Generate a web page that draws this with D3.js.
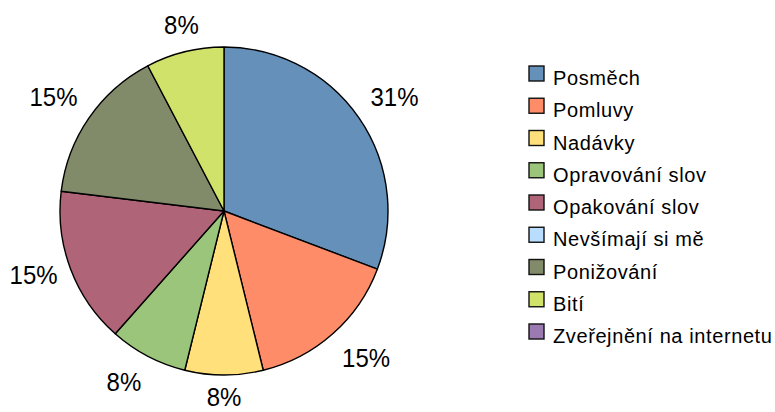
<!DOCTYPE html>
<html>
<head>
<meta charset="utf-8">
<script src="https://cdn.jsdelivr.net/npm/d3@7"></script>
<style>
  html, body { margin: 0; padding: 0; background: #fff; }
  svg { display: block; }
</style>
</head>
<body>
<svg id="chart" width="775" height="412"></svg>
<script>
const categories = ["Posměch", "Pomluvy", "Nadávky", "Opravování slov", "Opakování slov",
                    "Nevšímají si mě", "Ponižování", "Bití", "Zveřejnění na internetu"];
const values = [4, 2, 1, 1, 2, 0, 2, 1, 0];
const colors = ["#6590B9", "#FF8C69", "#FFE07A", "#9BC57A", "#B06478",
                "#B9DDFF", "#818A69", "#D1E26A", "#9A7AB0"];

const svg = d3.select("#chart");
const W = 775, H = 412;
const cx = 224, cy = 211, r = 164;
const font = "'Liberation Sans', Arial, sans-serif";

const total = d3.sum(values);
const data = categories.map((c, i) => ({ cat: c, value: values[i], color: colors[i] }));

const pie = d3.pie().sort(null).value(d => d.value);
const arcs = pie(data);
const arcGen = d3.arc().innerRadius(0).outerRadius(r);

const g = svg.append("g").attr("transform", `translate(${cx},${cy})`);

g.selectAll("path.slice")
  .data(arcs.filter(a => a.data.value > 0))
  .join("path")
  .attr("class", "slice")
  .attr("d", arcGen)
  .attr("fill", d => d.data.color)
  .attr("stroke", "#000")
  .attr("stroke-width", 1.4)
  .attr("stroke-linejoin", "round");

// percent labels placed outside the pie
const fmt = v => Math.round(v / total * 100) + "%";
const gap = 14, fs = 24;
const ramp = (v, t) => Math.sign(v) * Math.max(0, Math.min(1, (Math.abs(v) - t) * 5));
const labels = g.selectAll("text.pct")
  .data(arcs.filter(a => a.data.value > 0))
  .join("text")
  .attr("class", "pct")
  .attr("font-family", font)
  .attr("font-size", fs)
  .attr("fill", "#000")
  .attr("text-anchor", "middle")
  .text(d => fmt(d.data.value));

labels.each(function(d) {
  const a = (d.startAngle + d.endAngle) / 2;
  const s = Math.sin(a), c = Math.cos(a);
  const px = (r + gap) * s, py = -(r + gap) * c;
  const bb = this.getBBox();
  const w = bb.width, h = fs * 1.1;
  const kx = ramp(s, 0.25);
  const ky = ramp(c, 0.35);
  const centerX = px + kx * w / 2;
  const centerY = py - ky * h / 2;
  const baseline = Math.min(centerY + fs * 0.39, H - cy - 6);
  d3.select(this)
    .attr("transform", `translate(${centerX},${baseline}) scale(1,1.1)`);
});

// legend
const legend = svg.append("g").attr("transform", "translate(529,66)");
const rowH = 32.25;
const rows = legend.selectAll("g.row")
  .data(data)
  .join("g")
  .attr("class", "row")
  .attr("transform", (d, i) => `translate(0,${i * rowH})`);

rows.append("rect")
  .attr("x", 0).attr("y", 0)
  .attr("width", 15).attr("height", 15)
  .attr("fill", d => d.color)
  .attr("stroke", "#111")
  .attr("stroke-width", 1.4);

rows.append("text")
  .attr("x", 24)
  .attr("y", 19)
  .attr("font-family", font)
  .attr("font-size", 20)
  .attr("letter-spacing", 0.6)
  .attr("fill", "#000")
  .text(d => d.cat);
</script>
</body>
</html>
